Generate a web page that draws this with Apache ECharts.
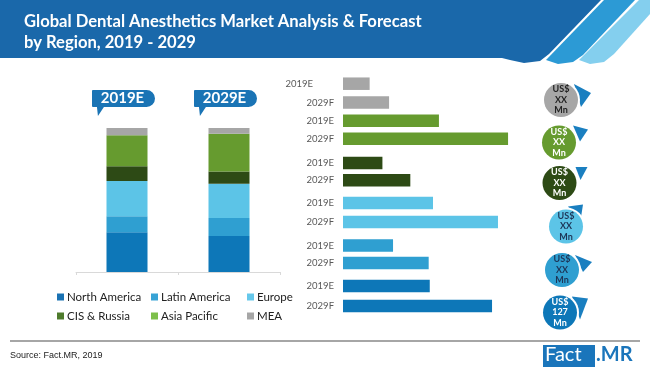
<!DOCTYPE html>
<html>
<head>
<meta charset="utf-8">
<script src="https://cdn.jsdelivr.net/npm/echarts@6/dist/echarts.min.js"></script>
<style>
html,body{margin:0;padding:0;background:#fff;}
#chart{width:650px;height:379px;}
</style>
</head>
<body>
<div id="chart"></div>
<script>
// ---------- data ----------
const titleText = 'Global Dental Anesthetics Market Analysis & Forecast\nby Region, 2019 - 2029';
const stackCategories = ['2019E', '2029E'];
const regions = ['North America', 'Latin America', 'Europe', 'CIS & Russia', 'Asia Pacific', 'MEA'];
const share2019 = [27.6, 11.1, 24.5, 10.2, 21.5, 5.1];
const share2029 = [25.0, 12.5, 23.8, 8.5, 26.2, 4.0];

const barCategories = ['2019E', '2029F'];
const barRegionOrder = ['MEA', 'Asia Pacific', 'CIS & Russia', 'Europe', 'Latin America', 'North America'];
const valuesMEA = [14.8, 25.6];
const valuesAsiaPacific = [53.3, 91.7];
const valuesCIS = [21.9, 37.4];
const valuesEurope = [50.0, 86.1];
const valuesLatinAmerica = [27.8, 47.6];
const valuesNorthAmerica = [48.2, 82.8];
const circleLabels = ['US$\nXX\nMn', 'US$\nXX\nMn', 'US$\nXX\nMn', 'US$\nXX\nMn', 'US$\nXX\nMn', 'US$\n127\nMn'];
const sourceText = 'Source: Fact.MR, 2019';

// ---------- styles ----------
const colors = {
  'North America': '#0d77b8',
  'Latin America': '#2f9fd1',
  'Europe': '#5cc4e7',
  'CIS & Russia': '#2d4a15',
  'Asia Pacific': '#669b2f',
  'MEA': '#a6a6a6'
};
const legendColors = {
  'North America': '#1a72b3',
  'Latin America': '#38a3d5',
  'Europe': '#66c8eb',
  'CIS & Russia': '#4e7b2c',
  'Asia Pacific': '#7dbf4b',
  'MEA': '#a6a6a6'
};
const circleTextColors = ['#222', '#fff', '#fff', '#1d3557', '#1d3557', '#fff'];
const barValueSets = [valuesMEA, valuesAsiaPacific, valuesCIS, valuesEurope, valuesLatinAmerica, valuesNorthAmerica];
const groupTops = [74.3, 111.8, 154.3, 193.5, 236.7, 276];
const groupHeights = [37.6, 36, 34.6, 38, 35, 40];
const circleCenters = [[561, 100], [559, 142.5], [559.5, 183], [566, 226.5], [562, 270], [560, 312.5]];
const circlePointers = [
  [[13, -16], [30, -7], [20, 7]],
  [[14, -17], [29, -13], [21, -1]],
  [[16, -16], [28, -16], [21, -3]],
  [[2, -20], [17, -22], [14, -3]],
  [[13, -15], [30, -8], [21, 2]],
  [[12, -16], [28, -14], [20, 7]]
];

const chart = echarts.init(document.getElementById('chart'), null, {renderer: 'canvas'});

const grids = [{left: 76, width: 204, top: 128, height: 144}];
const xAxes = [{
  type: 'category', gridIndex: 0, data: stackCategories,
  axisLine: {lineStyle: {color: '#d9d9d9'}},
  axisTick: {show: true, length: 3, lineStyle: {color: '#d9d9d9'}},
  axisLabel: {show: false}
}];
const yAxes = [{type: 'value', gridIndex: 0, min: 0, max: 100, show: false}];
const series = [];

regions.forEach((r, i) => {
  const s = {
    name: r, type: 'bar', stack: 'share', xAxisIndex: 0, yAxisIndex: 0,
    barWidth: 41, data: [share2019[i], share2029[i]],
    itemStyle: {color: colors[r]}, emphasis: {disabled: true}
  };
  if (i === regions.length - 1) {
    s.markPoint = {
      symbol: 'path://M1 0 H55 A8.5 8.5 0 0 1 55 17 H12 L6 26 L5 17 H1 A1 1 0 0 1 0 16 V1 A1 1 0 0 1 1 0 Z',
      symbolSize: [63, 26],
      symbolOffset: [-3.5, -25],
      itemStyle: {color: '#1a74b5'},
      label: {
        show: true, formatter: '{b}', color: '#fff', fontWeight: 'bold', fontSize: 15,
        fontFamily: 'Lato', offset: [-1, -4.5]
      },
      data: stackCategories.map((c, k) => ({name: c, coord: [k, 100]}))
    };
  }
  series.push(s);
});

barRegionOrder.forEach((r, g) => {
  grids.push({left: 343, width: 180, top: groupTops[g], height: groupHeights[g]});
  xAxes.push({type: 'value', gridIndex: g + 1, min: 0, max: 100, show: false});
  yAxes.push({
    type: 'category', gridIndex: g + 1, inverse: true, data: barCategories,
    axisLine: {show: false}, axisTick: {show: false}, splitLine: {show: false},
    axisLabel: {
      color: '#595959', fontSize: 9.5, fontFamily: 'Lato', margin: 9,
      formatter: (v, idx) => (g === 0 && idx === 0) ? '{s|' + v + '}' : v,
      rich: {s: {color: '#595959', fontSize: 9.5, fontFamily: 'Lato', padding: [0, 21, 0, 0]}}
    }
  });
  series.push({
    name: r, type: 'bar', xAxisIndex: g + 1, yAxisIndex: g + 1, barWidth: 12.5,
    data: barValueSets[g], itemStyle: {color: colors[r]}, emphasis: {disabled: true}
  });
});

const legendCols = [
  ['North America', 'CIS & Russia'],
  ['Latin America', 'Asia Pacific'],
  ['Europe', 'MEA']
];
const legendLefts = [57, 151, 247];
const legends = legendCols.map((col, i) => ({
  orient: 'vertical', left: legendLefts[i], top: 290, padding: 0,
  itemWidth: 7, itemHeight: 7, itemGap: 5,
  selectedMode: false, icon: 'rect',
  textStyle: {fontSize: 11.5, color: '#222', fontFamily: 'Lato', lineHeight: 14, padding: [0, 0, 0, -2]},
  data: col.map(n => ({name: n, itemStyle: {color: legendColors[n]}}))
}));

const graphics = [
  {type: 'polygon', z: 0, shape: {points: [[0,0],[601,0],[549,54],[540,61],[524,63],[510,60],[502,58],[0,58]]}, style: {fill: '#1a68aa'}},
  {type: 'polygon', z: 0, shape: {points: [[604,0],[635,0],[583,55],[573,62],[558,64],[546,60]]}, style: {fill: '#2c9ad5'}},
  {type: 'polygon', z: 0, shape: {points: [[639,0],[650,0],[650,14],[614,54],[604,62],[590,64],[579,60]]}, style: {fill: '#84cfee'}},
  {type: 'line', shape: {x1: 10, y1: 341, x2: 640, y2: 341}, style: {stroke: '#a6a6a6', lineWidth: 2}},
  {type: 'text', left: 10, top: 351, style: {text: sourceText, fontSize: 9, fontFamily: 'Liberation Sans', fill: '#222'}},
  {type: 'rect', shape: {x: 543, y: 345, width: 52, height: 22}, style: {fill: '#1a75bb'}},
  {type: 'text', left: 545, top: 345, style: {text: 'Fact', fontSize: 20, fontFamily: 'Lato', fill: '#fff'}},
  {type: 'text', left: 596, top: 345, style: {text: '.MR', fontSize: 20, fontWeight: 'bold', fontFamily: 'Lato', fill: '#1a75bb'}}
];
barRegionOrder.forEach((r, g) => {
  const [cx, cy] = circleCenters[g];
  graphics.push({type: 'polygon', shape: {points: circlePointers[g].map(p => [cx + p[0], cy + p[1]])}, style: {fill: '#1a7fc0'}});
  graphics.push({type: 'circle', shape: {cx: cx, cy: cy, r: 19}, style: {fill: '#fff'}});
  graphics.push({type: 'circle', shape: {cx: cx, cy: cy, r: 17}, style: {fill: colors[r]}});
  graphics.push({type: 'text', x: cx, y: cy, style: {
    text: circleLabels[g], fill: circleTextColors[g], fontSize: 9, fontWeight: 'bold', fontFamily: 'Lato',
    lineHeight: 10.5, align: 'center', verticalAlign: 'middle'
  }});
});

chart.setOption({
  backgroundColor: '#fff',
  animation: false,
  title: {
    text: titleText, left: 19, top: 6,
    textStyle: {color: '#fff', fontSize: 16.6, fontWeight: 'bold', fontFamily: 'Lato', lineHeight: 21}
  },
  legend: legends,
  grid: grids,
  xAxis: xAxes,
  yAxis: yAxes,
  series: series,
  graphic: graphics
});
</script>
</body>
</html>
